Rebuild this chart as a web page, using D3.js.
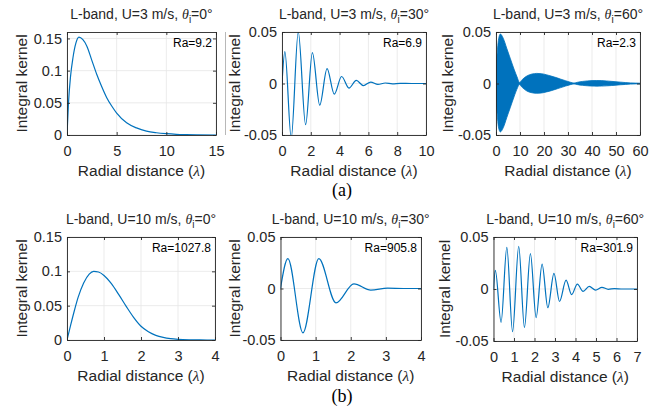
<!DOCTYPE html>
<html>
<head>
<meta charset="utf-8">
<script src="https://cdn.jsdelivr.net/npm/d3@7/dist/d3.min.js"></script>
<style>
  body { margin: 0; background: #ffffff; }
  svg text { font-family: "Liberation Sans", Arial, sans-serif; fill: #262626; }
</style>
</head>
<body>
<div id="chart"></div>
<script>
// values

// (a) U=3 m/s, theta=0
let p1X = [0, 0.15, 0.35, 0.6, 0.9, 1.2, 1.6, 2, 2.5, 3, 3.5, 4, 4.5, 5, 6, 7, 8, 9, 10, 11, 12, 13, 15];
let p1Y = [0, 0.05, 0.09, 0.12, 0.143, 0.152, 0.148, 0.138, 0.116, 0.094, 0.075, 0.058, 0.045, 0.034, 0.019, 0.011, 0.006, 0.0035, 0.002, 0.001, 0.0005, 0.0002, 0];

// (a) U=3 m/s, theta=30 (peaks and troughs)
let p2X = [0, 0.2, 0.64, 1.13, 1.64, 2.11, 2.62, 3.13, 3.63, 4.14, 4.65, 5.16, 5.65, 6.16, 6.66, 7.17, 7.67, 8.2, 9, 10];
let p2Y = [0, 0.031, -0.053, 0.05, -0.04, 0.03, -0.021, 0.0145, -0.0103, 0.0068, -0.0045, 0.003, -0.002, 0.0014, -0.0009, 0.0005, -0.0003, 0.0001, 0, 0];

// (a) U=3 m/s, theta=60 (envelope of the dense oscillation)
let p3X = [0, 0.5, 1, 1.8, 3, 4.5, 6, 7.5, 9, 9.7, 11, 13, 15, 17, 19, 21, 23, 25, 27, 29, 31, 32.5, 34, 36, 38, 40, 42, 44, 46, 48, 50, 52, 54, 56, 58, 60];
let p3Hi = [0.016, 0.03, 0.042, 0.048, 0.044, 0.034, 0.024, 0.014, 0.005, 0.001, 0.004, 0.0075, 0.0092, 0.0098, 0.0095, 0.0085, 0.0072, 0.0058, 0.0042, 0.0027, 0.0012, 0.0004, 0.0012, 0.002, 0.0025, 0.0028, 0.0029, 0.0028, 0.0025, 0.0021, 0.0017, 0.0013, 0.0009, 0.0006, 0.0004, 0.0003];
let p3Lo = [-0.016, -0.03, -0.042, -0.047, -0.043, -0.033, -0.023, -0.013, -0.004, -0.001, -0.004, -0.0075, -0.009, -0.0095, -0.0092, -0.0082, -0.007, -0.0055, -0.004, -0.0025, -0.0011, -0.0004, -0.0011, -0.0018, -0.0022, -0.0025, -0.0026, -0.0025, -0.0023, -0.002, -0.0016, -0.0012, -0.0009, -0.0006, -0.0004, -0.0003];

// (b) U=10 m/s, theta=0
let p4X = [0, 0.1, 0.2, 0.3, 0.45, 0.6, 0.72, 0.85, 1, 1.2, 1.4, 1.6, 1.8, 2, 2.2, 2.4, 2.6, 2.8, 3, 3.3, 3.6, 4];
let p4Y = [0, 0.022, 0.043, 0.062, 0.083, 0.096, 0.1, 0.099, 0.094, 0.082, 0.066, 0.049, 0.033, 0.02, 0.012, 0.0068, 0.0038, 0.002, 0.001, 0.0003, 0.0001, 0];

// (b) U=10 m/s, theta=30
let p5X = [0, 0.21, 0.64, 1.09, 1.58, 2.09, 2.57, 3.05, 3.5, 4];
let p5Y = [0, 0.029, -0.043, 0.029, -0.014, 0.0045, -0.0016, 0.0003, 0, 0];

// (b) U=10 m/s, theta=60
let p6X = [0, 0.09, 0.37, 0.65, 0.93, 1.23, 1.51, 1.8, 2.08, 2.37, 2.65, 2.95, 3.22, 3.54, 3.81, 4.09, 4.37, 4.67, 4.98, 5.29, 5.6, 5.9, 6.3, 7];
let p6Y = [0, 0.018, -0.032, 0.04, -0.041, 0.041, -0.037, 0.034, -0.0275, 0.024, -0.018, 0.015, -0.012, 0.0085, -0.0054, 0.0047, -0.0022, 0.0025, -0.001, 0.0016, -0.0003, 0.0004, 0, 0];

let windSpeeds = [3, 3, 3, 10, 10, 10];
let incAngles = [0, 30, 60, 0, 30, 60];
let raLabels = ["Ra=9.2", "Ra=6.9", "Ra=2.3", "Ra=1027.8", "Ra=905.8", "Ra=301.9"];
let xDomains = [[0, 15], [0, 10], [0, 60], [0, 4], [0, 4], [0, 7]];
let yDomains = [[0, 0.16], [-0.05, 0.05], [-0.05, 0.05], [0, 0.15], [-0.05, 0.05], [-0.05, 0.05]];
let xTicks = [[0, 5, 10, 15], [0, 2, 4, 6, 8, 10], [0, 10, 20, 30, 40, 50, 60], [0, 1, 2, 3, 4], [0, 1, 2, 3, 4], [0, 1, 2, 3, 4, 5, 6, 7]];
let yTicks = [[0, 0.05, 0.1, 0.15], [-0.05, 0, 0.05], [-0.05, 0, 0.05], [0, 0.05, 0.1, 0.15], [-0.05, 0, 0.05], [-0.05, 0, 0.05]];
let rowLabels = ["(a)", "(b)"];

let series = [
  {x: p1X, y: p1Y},
  {x: p2X, y: p2Y},
  {x: p3X, hi: p3Hi, lo: p3Lo},
  {x: p4X, y: p4Y},
  {x: p5X, y: p5Y},
  {x: p6X, y: p6Y}
];

// layout in pixels
let boxes = [
  {left: 67, right: 216, top: 32, bottom: 135, yLabelX: 22},
  {left: 282, right: 426, top: 32, bottom: 135, yLabelX: 235},
  {left: 496, right: 640, top: 32, bottom: 135, yLabelX: 448},
  {left: 67, right: 215, top: 237, bottom: 340, yLabelX: 22},
  {left: 280.5, right: 421, top: 237, bottom: 340, yLabelX: 235},
  {left: 493.5, right: 637, top: 237, bottom: 341, yLabelX: 445}
];
let rowLabelY = [196, 402];

let width = 664, height = 413;
let lineColor = "#0072bd";
let axisColor = "#262626";
let gridColor = "#e6e6e6";

let svg = d3.select("#chart")
  .append("svg")
  .attr("width", width)
  .attr("height", height);

boxes.forEach(function(b, i) {
  let xScale = d3.scaleLinear().domain(xDomains[i]).range([b.left, b.right]);
  let yScale = d3.scaleLinear().domain(yDomains[i]).range([b.bottom, b.top]);
  let cx = (b.left + b.right) / 2;

  let g = svg.append("g").attr("class", "panel");

  // grid
  g.selectAll(".vgrid").data(xTicks[i]).enter()
    .append("line")
    .attr("x1", d => xScale(d)).attr("x2", d => xScale(d))
    .attr("y1", b.top).attr("y2", b.bottom)
    .attr("stroke", gridColor).attr("stroke-width", 0.8);
  g.selectAll(".hgrid").data(yTicks[i]).enter()
    .append("line")
    .attr("x1", b.left).attr("x2", b.right)
    .attr("y1", d => yScale(d)).attr("y2", d => yScale(d))
    .attr("stroke", gridColor).attr("stroke-width", 0.8);

  // curve
  let clipId = "clip" + i;
  svg.append("clipPath").attr("id", clipId)
    .append("rect")
    .attr("x", b.left).attr("y", b.top)
    .attr("width", b.right - b.left).attr("height", b.bottom - b.top);

  let s = series[i];
  let idx = d3.range(s.x.length);
  if (s.hi) {
    let band = d3.area()
      .x(k => xScale(s.x[k]))
      .y0(k => yScale(s.lo[k]))
      .y1(k => yScale(s.hi[k]))
      .curve(d3.curveMonotoneX);
    g.append("path")
      .attr("d", band(idx))
      .attr("fill", lineColor)
      .attr("stroke", lineColor)
      .attr("stroke-width", 0.8)
      .attr("clip-path", `url(#${clipId})`);
  } else {
    let line = d3.line()
      .x(k => xScale(s.x[k]))
      .y(k => yScale(s.y[k]))
      .curve(d3.curveMonotoneX);
    g.append("path")
      .attr("d", line(idx))
      .attr("fill", "none")
      .attr("stroke", lineColor)
      .attr("stroke-width", 1.2)
      .attr("clip-path", `url(#${clipId})`);
  }

  // axes, ticks inward on all four sides
  let xAxis = d3.axisBottom(xScale).tickValues(xTicks[i]).tickSizeInner(-3).tickSizeOuter(0).tickPadding(11).tickFormat(d => String(d));
  let yAxis = d3.axisLeft(yScale).tickValues(yTicks[i]).tickSizeInner(-3).tickSizeOuter(0).tickPadding(5).tickFormat(d => String(d));
  let xTop = d3.axisTop(xScale).tickValues(xTicks[i]).tickSizeInner(-3).tickSizeOuter(0).tickFormat("");
  let yRight = d3.axisRight(yScale).tickValues(yTicks[i]).tickSizeInner(-3).tickSizeOuter(0).tickFormat("");

  let axes = [
    g.append("g").attr("transform", `translate(0,${b.bottom})`).call(xAxis),
    g.append("g").attr("transform", `translate(${b.left},0)`).call(yAxis),
    g.append("g").attr("transform", `translate(0,${b.top})`).call(xTop),
    g.append("g").attr("transform", `translate(${b.right},0)`).call(yRight)
  ];
  axes.forEach(function(a) {
    a.attr("font-family", null).attr("font-size", null);
    a.selectAll("path, line").attr("stroke", axisColor).attr("stroke-width", 0.9);
    a.selectAll("text").attr("fill", axisColor).style("font-size", "14.5px");
  });

  // title
  let titleY = b.top - 13.5;
  let title = g.append("text")
    .attr("x", cx).attr("y", titleY)
    .attr("text-anchor", "middle")
    .style("font-size", "14px");
  title.append("tspan").text(`L-band, U=${windSpeeds[i]} m/s, `);
  title.append("tspan").style("font-family", "'Liberation Serif', serif").style("font-style", "italic").text("θ");
  title.append("tspan").attr("dy", 4).style("font-size", "10px").text("i");
  title.append("tspan").attr("dy", -4).text(`=${incAngles[i]}°`);

  // x label
  let xl = g.append("text")
    .attr("x", cx).attr("y", b.bottom + 41)
    .attr("text-anchor", "middle")
    .style("font-size", "15.5px");
  xl.append("tspan").text("Radial distance (");
  xl.append("tspan").style("font-family", "'Liberation Serif', serif").style("font-style", "italic").text("λ");
  xl.append("tspan").text(")");

  // y label
  g.append("text")
    .attr("transform", `translate(${b.yLabelX},${(b.top + b.bottom) / 2})rotate(-90)`)
    .attr("text-anchor", "middle")
    .attr("dy", "0.35em")
    .style("font-size", "15.5px")
    .text("Integral kernel");

  // Ra annotation
  g.append("text")
    .attr("x", b.right - 4).attr("y", b.top + 15)
    .attr("text-anchor", "end")
    .style("font-size", "12px")
    .style("fill", "#000")
    .text(raLabels[i]);
});

// stray axis edge right of the first panel in the reference
svg.append("line")
  .attr("x1", 225.5).attr("x2", 225.5)
  .attr("y1", boxes[0].top).attr("y2", boxes[0].bottom)
  .attr("stroke", "#888").attr("stroke-width", 0.6);

svg.selectAll(".rowLabel").data(rowLabels).enter()
  .append("text")
  .attr("x", 342)
  .attr("y", (d, i) => rowLabelY[i])
  .attr("text-anchor", "middle")
  .style("font-family", "'Liberation Serif', 'Times New Roman', serif")
  .style("font-size", "18px")
  .style("fill", "#000")
  .text(d => d);
</script>
</body>
</html>
